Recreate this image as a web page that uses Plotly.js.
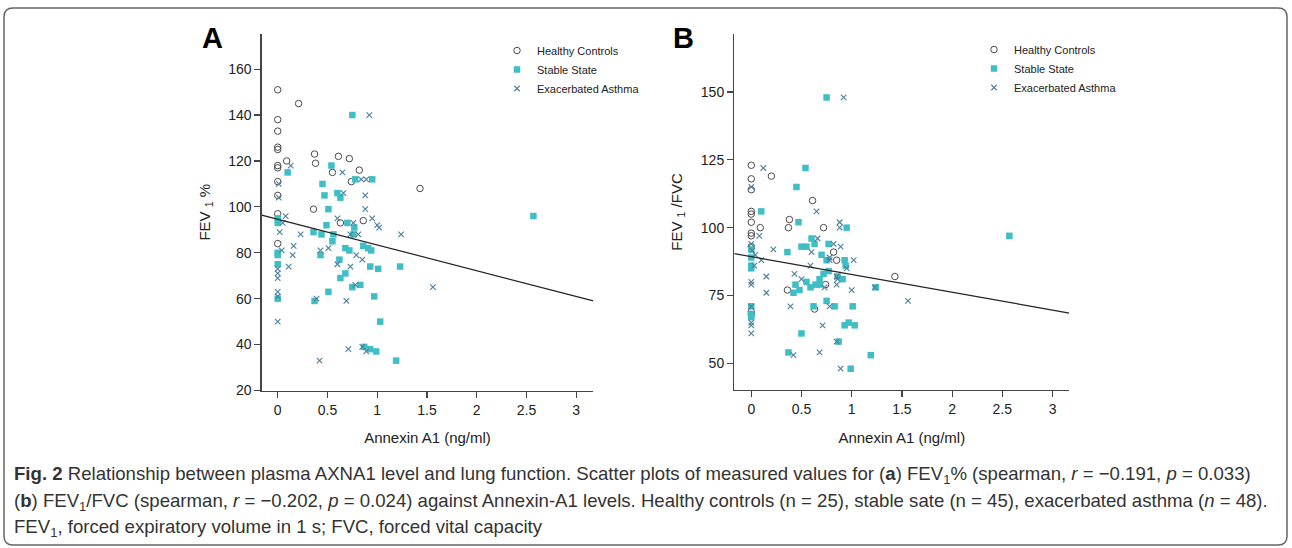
<!DOCTYPE html>
<html><head><meta charset="utf-8">
<script src="https://cdn.plot.ly/plotly-3.0.1.min.js"></script>
<style>html,body{margin:0;padding:0;background:#fff}#chart{width:1292px;height:548px}</style>
</head><body><div id="chart"></div><script>
// ---------- data ----------
const seriesNames = ['Healthy Controls', 'Stable State', 'Exacerbated Asthma'];
const xTickVals = [0, 0.5, 1, 1.5, 2, 2.5, 3];
const xTickText = ['0', '0.5', '1', '1.5', '2', '2.5', '3'];
const yTickValsA = [20, 40, 60, 80, 100, 120, 140, 160];
const yTickValsB = [50, 75, 100, 125, 150];

// Panel A: FEV1 %
const healthyA_x = [0,0.21,0,0,0,0,0.37,0.61,0.72,0.09,0.38,0,0,0.55,0.82,0.74,0,0,0.36,0,0.86,0.63,0,1.43];
const healthyA_y = [151,145,138,133,126,125,123,122,121,120,119,118,117,115,116,111,111,105,99,97,94,93,84,108];
const stableA_x = [0.75,0.10,0.54,0.45,0.78,0.95,0.47,0.60,0.63,0.51,0,0,0.49,0.70,0.77,0.36,0.44,0.56,0.76,0.55,0.86,0.68,0.72,0.91,0.94,0,0,0.43,0.62,0,0.93,1.01,1.23,0.68,0.63,0.83,0.75,0.51,0,0.37,0.97,1.03,0.87,0.93,0.99,1.19,2.57];
const stableA_y = [140,115,118,110,112,112,105,106,104,99,95,93,92,93,91,89,88,88,88,85,83,82,81,82,81,80,79,79,77,75,74,73,74,71,69,66,65,63,60,59,61,50,39,38,37,33,96];
const exacA_x = [0.92,0.13,0.65,0.84,0.89,0.01,0.66,0.01,0.88,0.88,0.08,0.60,0.95,0.05,0.76,1.00,1.02,0.02,0.23,0.73,0.81,1.24,0.04,0.16,0.15,0.43,0.51,0.79,0.85,0.11,0.60,0.73,0,0,0,0,0,0.78,0.39,0.69,0,0.71,0.85,0.89,0.42,1.56];
const exacA_y = [140,118,115,112,112,110,106,104,105,99,96,95,95,93,93,92,91,89,88,88,88,88,81,83,79,81,82,79,77,74,75,74,73,71,69,63,61,66,60,59,50,38,39,37,33,65];
const fitA = [94.6, -11.2]; // intercept, slope

// Panel B: FEV1/FVC
const healthyB_x = [0,0.20,0,0,0.61,0,0,0,0.38,0.37,0.09,0.72,0,0,0,0.82,0.85,1.43,0.74,0.36,0,0,0.63];
const healthyB_y = [123,119,118,114,110,106,105,102,103,100,100,100,98,97,93,91,88,82,79,77,69,68,70];
const stableB_x = [0.75,0.54,0.45,0.10,0.47,0.95,0.60,0.50,0.55,0.63,0.77,0.36,0.70,0.75,0.93,0.94,0,0,0,0,1.24,0.77,0.72,0.86,0.91,0.44,0.55,0.59,0.64,0.68,0.68,0.42,0.48,0,0,0,0.62,0.75,0.83,1.01,0.93,0.97,1.03,0.50,0.87,0.37,1.19,0.99,2.57];
const stableB_y = [148,122,115,106,102,100,96,93,93,94,94,91,90,88,88,86,92,89,86,85,78,84,83,82,81,79,80,78,79,81,79,76,77,71,68,67,71,73,71,71,64,65,64,61,58,54,53,48,97];
const exacB_x = [0.92,0.12,0,0.65,0.88,0.88,0.08,0.66,0.82,0.89,0,0.22,0.60,0.78,1.02,0.04,0.10,0.03,0.59,0.01,0.95,0.43,0.85,0.50,0.73,0.85,1.00,0.15,0,0,0.15,1.23,1.56,0,0,0,0,0.39,0.78,0.71,0.85,0.42,0.68,0.89,0.78,0.86];
const exacB_y = [148,122,115,106,102,100,97,96,94,93,94,92,91,89,88,90,88,86,86,91.5,85,83,82,81,78,79,77,76,80,79,82,78,73,71,65,64,61,71,71,64,58,53,54,48,88,81];
const fitB = [89.3, -6.56];

// ---------- styling ----------
const W = 1292, H = 548;
const px = v => v / W, py = v => 1 - v / H;
const FONT = 'Liberation Sans, Arial, sans-serif';
const CAPFONT = 'Liberation Sans, Arial, sans-serif';
const circleM = {symbol: 'circle-open', size: 6.5, color: '#4a4a4a', line: {width: 1, color: '#4a4a4a'}};
const squareM = {symbol: 'square', size: 6.5, color: '#3fbfc5', line: {width: 0}};
const xM = {symbol: 'x-thin-open', size: 5.5, color: '#4c7f9b', line: {width: 1.1, color: '#4c7f9b'}};

const rangeA = [-0.161, 3.172], rangeB = [-0.169, 3.167];
function fitTrace(fit, range, xa, ya) {
  return {x: range, y: range.map(v => fit[0] + fit[1] * v), xaxis: xa, yaxis: ya,
    mode: 'lines', line: {color: '#222', width: 1.2}, showlegend: false, hoverinfo: 'skip'};
}
function pts(x, y, name, marker, xa, ya, lg) {
  return {x, y, name, type: 'scatter', mode: 'markers', marker, xaxis: xa, yaxis: ya, legend: lg, cliponaxis: false};
}
const data = [
  pts(healthyA_x, healthyA_y, seriesNames[0], circleM, 'x', 'y', 'legend'),
  pts(stableA_x, stableA_y, seriesNames[1], squareM, 'x', 'y', 'legend'),
  pts(exacA_x, exacA_y, seriesNames[2], xM, 'x', 'y', 'legend'),
  fitTrace(fitA, rangeA, 'x', 'y'),
  pts(healthyB_x, healthyB_y, seriesNames[0], circleM, 'x2', 'y2', 'legend2'),
  pts(stableB_x, stableB_y, seriesNames[1], squareM, 'x2', 'y2', 'legend2'),
  pts(exacB_x, exacB_y, seriesNames[2], xM, 'x2', 'y2', 'legend2'),
  fitTrace(fitB, rangeB, 'x2', 'y2')
];

const axBase = {showline: true, linecolor: '#444', linewidth: 1.3, ticks: 'outside', ticklen: 6,
  tickcolor: '#444', tickwidth: 1.2, showgrid: false, zeroline: false,
  tickfont: {family: FONT, size: 14, color: '#222'}};
const xTitle = {text: 'Annexin A1 (ng/ml)', font: {family: FONT, size: 15, color: '#222'}, standoff: 16};

const capFont = {family: CAPFONT, size: 18.6, color: '#333'};
const layout = {
  width: W, height: H, margin: {l: 0, r: 0, t: 0, b: 0}, paper_bgcolor: '#fff', plot_bgcolor: '#fff',
  showlegend: true, hovermode: false,
  xaxis: Object.assign({}, axBase, {domain: [px(261.7), px(593.3)], range: rangeA, anchor: 'y',
    tickvals: xTickVals, ticktext: xTickText, title: xTitle}),
  yaxis: Object.assign({}, axBase, {domain: [py(390.5), py(34)], range: [20, 175.3], anchor: 'x',
    tickvals: yTickValsA, title: {text: 'FEV <sub>1</sub> %', font: {family: FONT, size: 15, color: '#222'}, standoff: 14}}),
  xaxis2: Object.assign({}, axBase, {domain: [px(734.3), px(1069.3)], range: rangeB, anchor: 'y2',
    tickvals: xTickVals, ticktext: xTickText, title: xTitle}),
  yaxis2: Object.assign({}, axBase, {domain: [py(390), py(34)], range: [40.15, 171.4], anchor: 'x2',
    tickvals: yTickValsB, title: {text: 'FEV <sub>1</sub> /FVC', font: {family: FONT, size: 15, color: '#222'}, standoff: 14}}),
  legend: {x: px(497), y: py(36), xanchor: 'left', yanchor: 'top', bgcolor: 'rgba(0,0,0,0)',
    font: {family: FONT, size: 11, color: '#222'}, itemwidth: 30, tracegroupgap: 0},
  legend2: {x: px(974), y: py(35), xanchor: 'left', yanchor: 'top', bgcolor: 'rgba(0,0,0,0)',
    font: {family: FONT, size: 11, color: '#222'}, itemwidth: 30, tracegroupgap: 0},
  shapes: [{
    type: 'path', xref: 'paper', yref: 'paper', line: {color: '#666', width: 1.5},
    path: (() => {
      const x0 = 4, y0 = 8, x1 = 1287, y1 = 545, r = 9;
      return `M ${px(x0)},${py(y0 + r)} Q ${px(x0)},${py(y0)} ${px(x0 + r)},${py(y0)} L ${px(x1 - r)},${py(y0)} ` +
        `Q ${px(x1)},${py(y0)} ${px(x1)},${py(y0 + r)} L ${px(x1)},${py(y1 - r)} Q ${px(x1)},${py(y1)} ${px(x1 - r)},${py(y1)} ` +
        `L ${px(x0 + r)},${py(y1)} Q ${px(x0)},${py(y1)} ${px(x0)},${py(y1 - r)} Z`;
    })()
  }],
  annotations: [
    {text: '<b>A</b>', x: px(213), y: py(38), xref: 'paper', yref: 'paper', showarrow: false,
      font: {family: FONT, size: 29, color: '#000'}, xanchor: 'center', yanchor: 'middle'},
    {text: '<b>B</b>', x: px(683), y: py(38), xref: 'paper', yref: 'paper', showarrow: false,
      font: {family: FONT, size: 29, color: '#000'}, xanchor: 'center', yanchor: 'middle'},
    {text: '<b>Fig. 2</b> Relationship between plasma AXNA1 level and lung function. Scatter plots of measured values for (<b>a</b>) FEV<sub>1</sub>% (spearman, <i>r</i> = −0.191, <i>p</i> = 0.033)',
      x: px(12), y: py(475), xref: 'paper', yref: 'paper', showarrow: false, xanchor: 'left', yanchor: 'middle', font: capFont},
    {text: '(<b>b</b>) FEV<sub>1</sub>/FVC (spearman, <i>r</i> = −0.202, <i>p</i> = 0.024) against Annexin-A1 levels. Healthy controls (n = 25), stable sate (n = 45), exacerbated asthma (<i>n</i> = 48).',
      x: px(12), y: py(502), xref: 'paper', yref: 'paper', showarrow: false, xanchor: 'left', yanchor: 'middle', font: capFont},
    {text: 'FEV<sub>1</sub>, forced expiratory volume in 1 s; FVC, forced vital capacity',
      x: px(12), y: py(528), xref: 'paper', yref: 'paper', showarrow: false, xanchor: 'left', yanchor: 'middle', font: capFont}
  ]
};
Plotly.newPlot('chart', data, layout, {staticPlot: true, displayModeBar: false});
</script></body></html>
